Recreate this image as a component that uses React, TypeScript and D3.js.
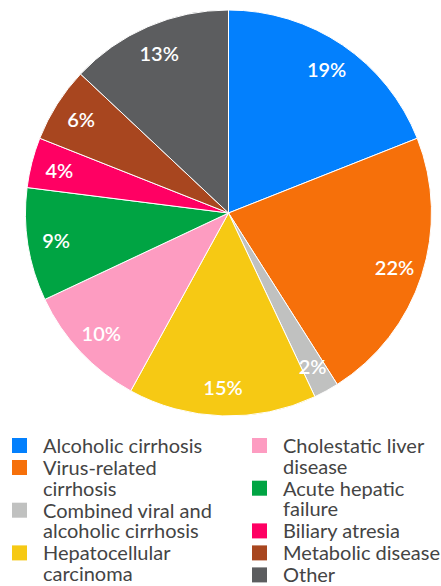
import React from "react";
import * as d3 from "d3";

const categories = [
  "Alcoholic cirrhosis",
  "Virus-related cirrhosis",
  "Combined viral and alcoholic cirrhosis",
  "Hepatocellular carcinoma",
  "Cholestatic liver disease",
  "Acute hepatic failure",
  "Biliary atresia",
  "Metabolic disease",
  "Other",
];
const values = [19, 22, 2, 15, 10, 9, 4, 6, 13];
const colors = ["#0380FD", "#F6700A", "#C0C1C0", "#F6C914", "#FD9CC1", "#00A443", "#FF0063", "#A8461F", "#5C5D5F"];
const legendLines = [
  ["Alcoholic cirrhosis"],
  ["Virus-related", "cirrhosis"],
  ["Combined viral and", "alcoholic cirrhosis"],
  ["Hepatocellular", "carcinoma"],
  ["Cholestatic liver", "disease"],
  ["Acute hepatic", "failure"],
  ["Biliary atresia"],
  ["Metabolic disease"],
  ["Other"],
];
const legendColumns = [[0, 1, 2, 3], [4, 5, 6, 7, 8]];

const W = 441;
const H = 586;
const cx = 228.5;
const cy = 213;
const R = 203;
const FONT = "Lato, 'Source Sans Pro', sans-serif";

export default function App() {
  const pie = d3.pie<number>().sort(null).value((d) => d)(values);
  const arc = d3.arc<d3.PieArcDatum<number>>().innerRadius(0).outerRadius(R);
  const labelArc = d3.arc<d3.PieArcDatum<number>>().innerRadius(R * 0.86).outerRadius(R * 0.86);
  const total = d3.sum(values);

  const lineH = 20.7;
  const gap = 1.3;
  const colX = [12, 252];
  const textX = [43, 283];
  const firstBase = 453;

  const legendItems: React.ReactNode[] = [];
  legendColumns.forEach((col, ci) => {
    let base = firstBase;
    col.forEach((idx) => {
      const lines = legendLines[idx];
      legendItems.push(
        <g key={idx}>
          <rect x={colX[ci]} y={base - 15} width={15} height={15} fill={colors[idx]} />
          {lines.map((ln, li) => (
            <text key={li} x={textX[ci]} y={base + li * lineH} fontSize={20} fill="#444" fontFamily={FONT}>
              {ln}
            </text>
          ))}
        </g>
      );
      base += lines.length * lineH + gap;
    });
  });

  return (
    <svg width={W} height={H} style={{ position: "absolute", left: 0, top: 0 }}>
      <g transform={`translate(${cx},${cy})`}>
        {pie.map((d, i) => (
          <path key={categories[i]} d={arc(d) || ""} fill={colors[i]} stroke="#fff" strokeWidth={1} />
        ))}
        {pie.map((d, i) => {
          const [x, y] = labelArc.centroid(d);
          return (
            <text
              key={"l" + i}
              x={x}
              y={y}
              textAnchor="middle"
              dominantBaseline="central"
              fill="#fff"
              fontSize={20}
              fontWeight={600}
              fontFamily={FONT}
            >
              {Math.round((values[i] / total) * 100)}%
            </text>
          );
        })}
      </g>
      {legendItems}
    </svg>
  );
}
